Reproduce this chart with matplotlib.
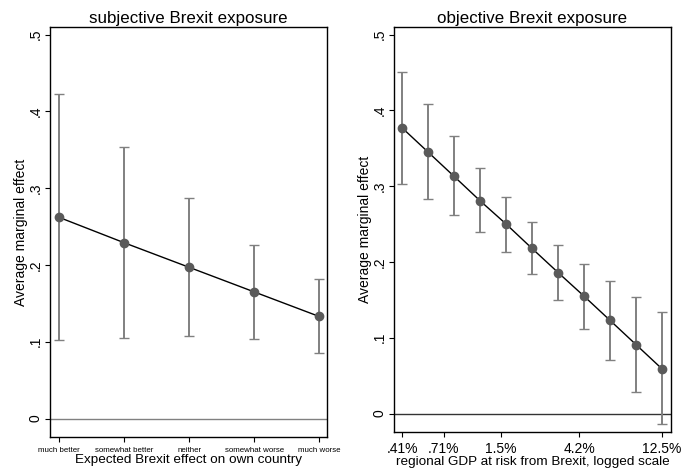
import numpy as np
import matplotlib.pyplot as plt

plt.rcParams['font.family'] = ['Liberation Sans', 'DejaVu Sans']

# subjective exposure
subj_labels = ['much better', 'somewhat better', 'neither', 'somewhat worse', 'much worse']
subj_pos = [1, 2, 3, 4, 5]
subj_est = [0.262, 0.229, 0.197, 0.165, 0.133]
subj_lo = [0.102, 0.105, 0.108, 0.104, 0.085]
subj_hi = [0.422, 0.354, 0.287, 0.226, 0.182]

# objective exposure (regional GDP at risk, %)
obj_gdp = [0.41, 0.577, 0.812, 1.14, 1.61, 2.26, 3.19, 4.48, 6.31, 8.88, 12.5]
obj_est = [0.377, 0.345, 0.313, 0.281, 0.250, 0.218, 0.186, 0.155, 0.123, 0.091, 0.059]
obj_lo = [0.303, 0.283, 0.262, 0.239, 0.213, 0.184, 0.150, 0.111, 0.071, 0.029, -0.014]
obj_hi = [0.451, 0.408, 0.366, 0.324, 0.286, 0.253, 0.223, 0.197, 0.175, 0.154, 0.134]
obj_ticks = [0.41, 0.71, 1.5, 4.2, 12.5]
obj_ticklabels = ['.41%', '.71%', '1.5%', '4.2%', '12.5%']

yticks = [0, 0.1, 0.2, 0.3, 0.4, 0.5]
yticklabels = ['0', '.1', '.2', '.3', '.4', '.5']

fig = plt.figure(figsize=(6.81, 4.73), dpi=100)
ax1 = fig.add_axes([0.0734, 0.0761, 0.4066, 0.867])
ax2 = fig.add_axes([0.5786, 0.0867, 0.4067, 0.8563])

grey = '#5a5a5a'
ci_col = '#808080'


def draw(ax, x, est, lo, hi, zero_col):
    est = np.array(est)
    yerr = [est - np.array(lo), np.array(hi) - est]
    ax.axhline(0, color=zero_col, lw=1.0, zorder=1)
    ax.errorbar(x, est, yerr=yerr, fmt='none', ecolor=ci_col, elinewidth=1.4,
                capsize=3.5, capthick=1.0, zorder=2)
    ax.plot(x, est, color='black', lw=1.0, zorder=3)
    ax.plot(x, est, 'o', color=grey, ms=6, zorder=4)
    ax.set_yticks(yticks)
    ax.set_yticklabels(yticklabels, rotation=90, va='center', fontsize=10)
    ax.set_ylabel('Average marginal effect', fontsize=10, labelpad=0)
    ax.tick_params(direction='out', length=3.5, width=0.8)
    ax.tick_params(axis='y', pad=2)
    for s in ax.spines.values():
        s.set_linewidth(1.0)


draw(ax1, subj_pos, subj_est, subj_lo, subj_hi, ci_col)
ax1.set_xlim(0.86, 5.12)
ax1.set_ylim(-0.024, 0.51)
ax1.set_xticks(subj_pos)
ax1.set_xticklabels(subj_labels, fontsize=5.7)
ax1.set_xlabel('Expected Brexit effect on own country', fontsize=9.7, labelpad=0)
ax1.set_title('subjective Brexit exposure', fontsize=12.2, pad=3)

draw(ax2, obj_gdp, obj_est, obj_lo, obj_hi, '#333333')
ax2.set_xscale('log')
ax2.set_xlim(0.369, 14.07)
ax2.set_ylim(-0.0243, 0.51)
ax2.set_xticks(obj_ticks)
ax2.set_xticklabels(obj_ticklabels, fontsize=10)
ax2.xaxis.set_minor_locator(plt.NullLocator())
ax2.set_xlabel('regional GDP at risk from Brexit, logged scale', fontsize=9.7, labelpad=0)
ax2.set_title('objective Brexit exposure', fontsize=12.2, pad=3)

fig.savefig('out.png', dpi=100)
